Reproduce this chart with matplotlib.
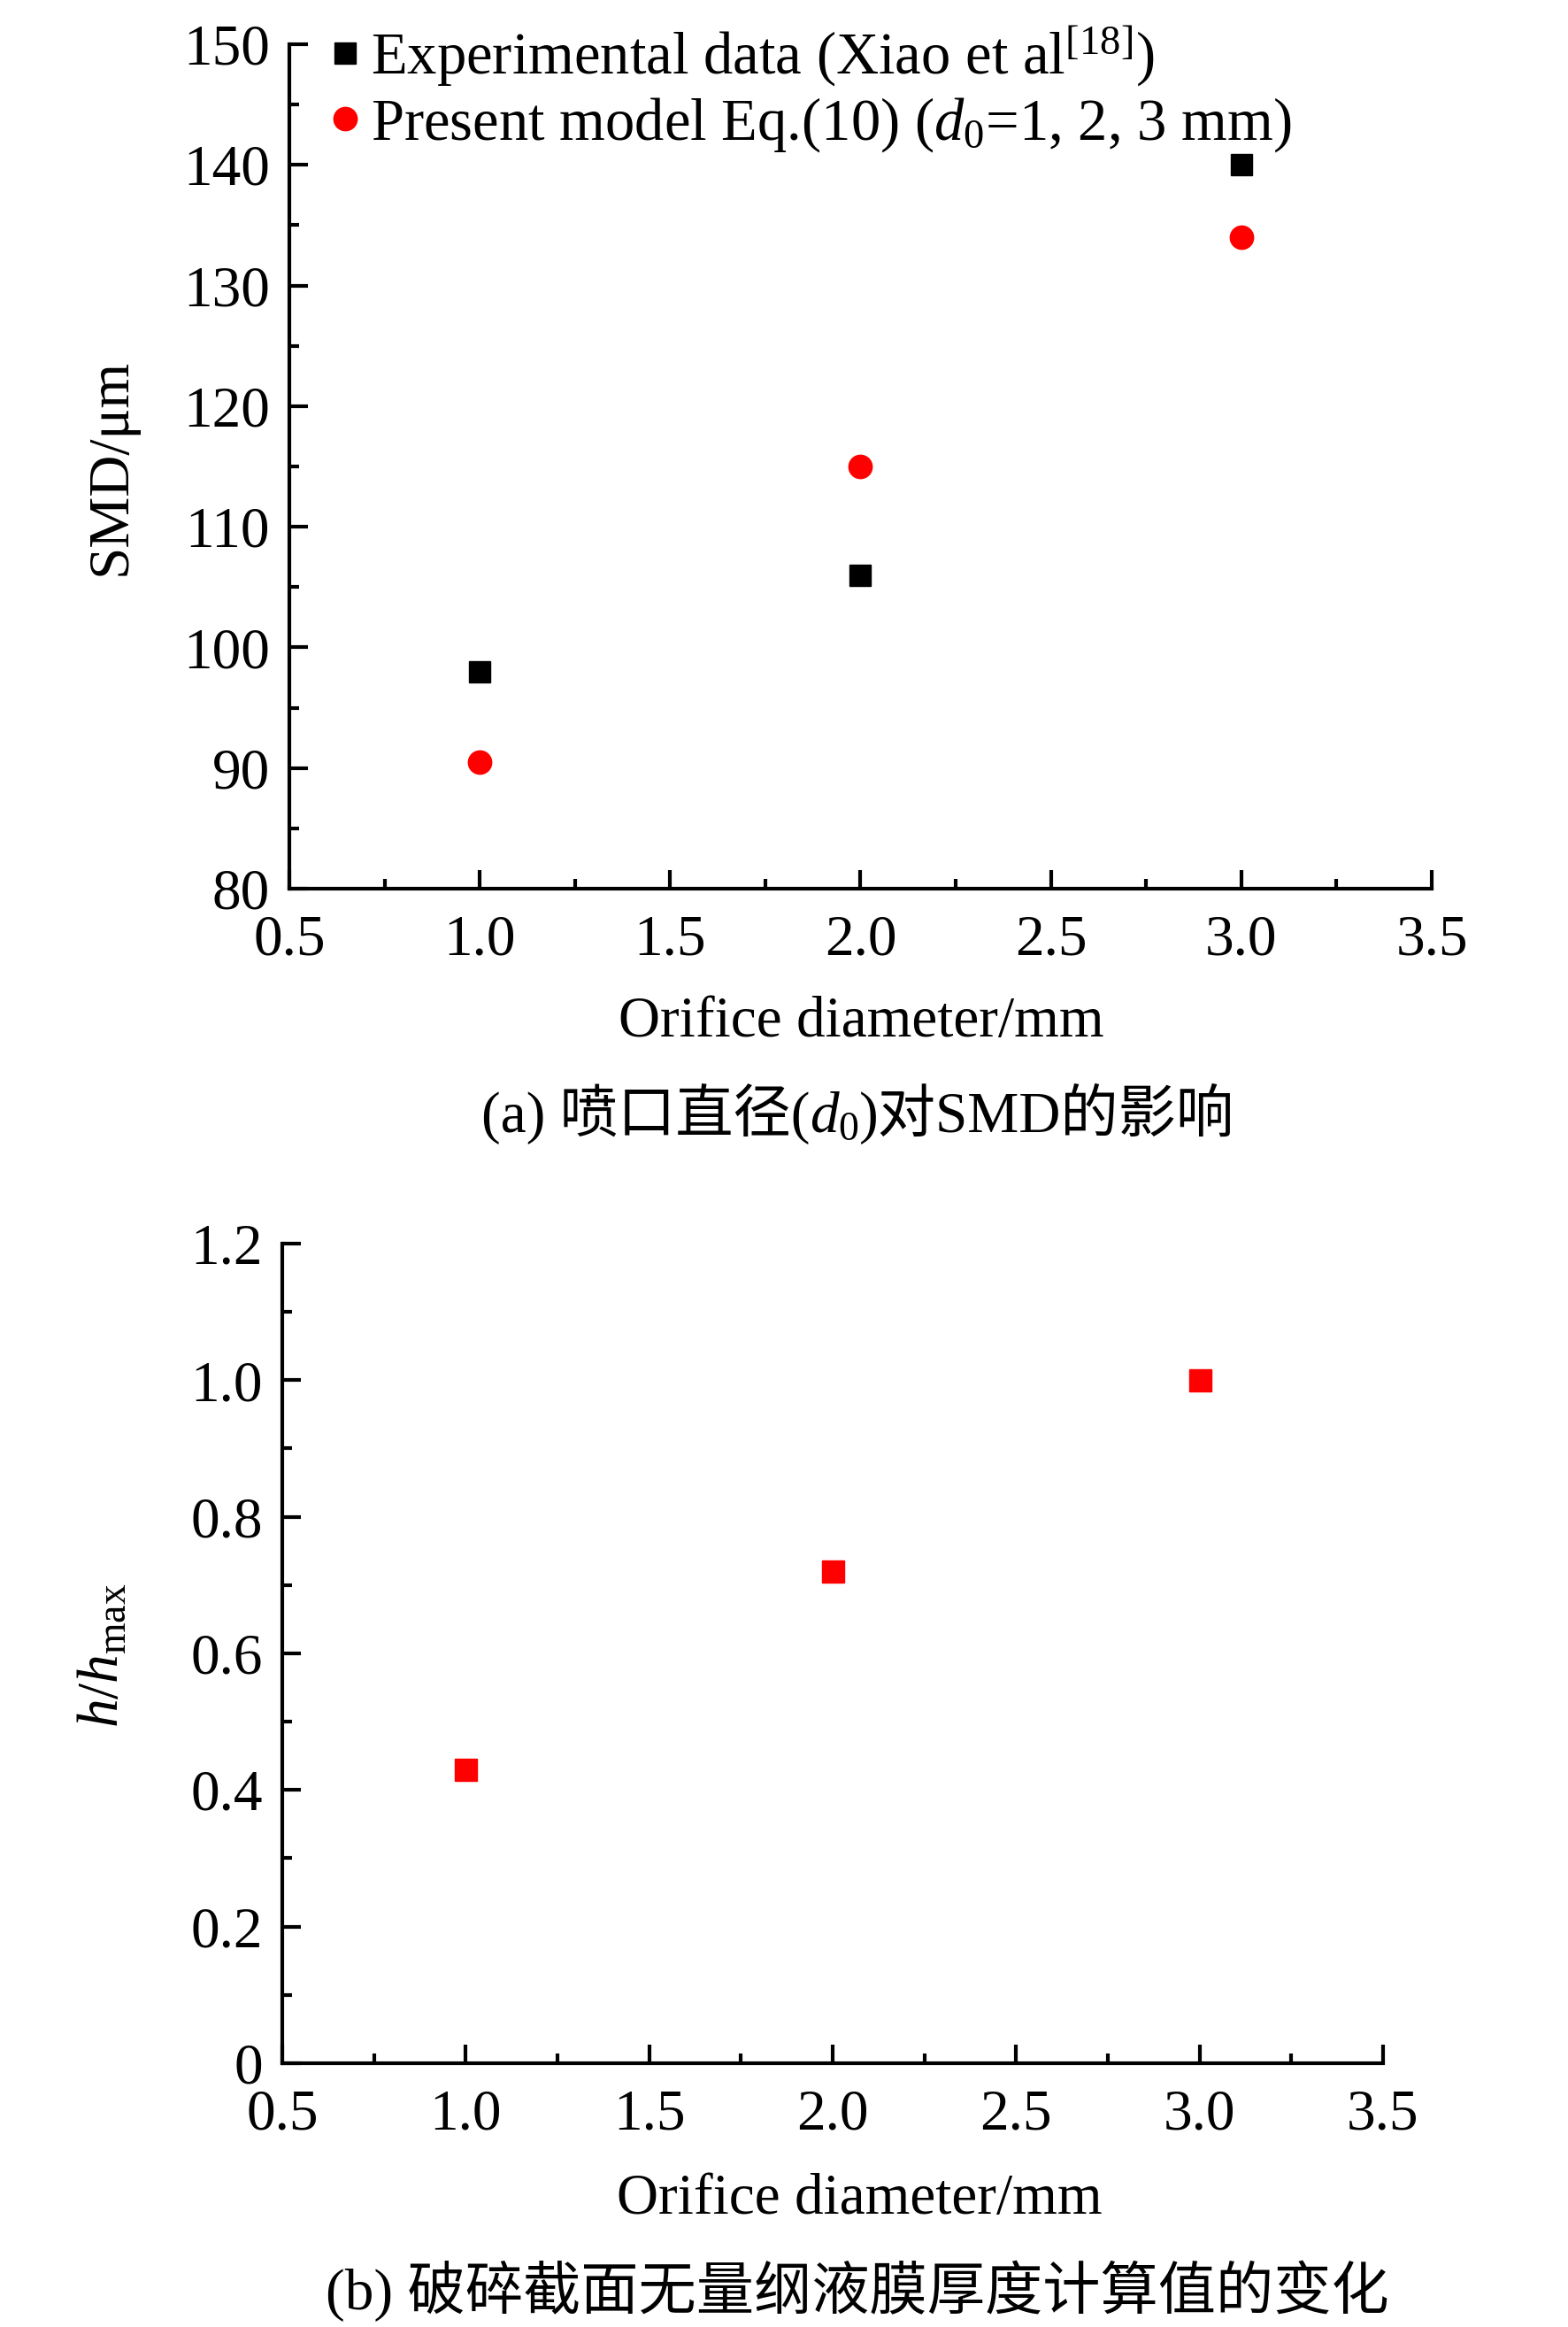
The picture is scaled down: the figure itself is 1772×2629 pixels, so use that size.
import matplotlib
matplotlib.use('Agg')
import matplotlib.pyplot as plt
from matplotlib.ticker import MultipleLocator, FuncFormatter
from matplotlib.offsetbox import TextArea, HPacker, AnchoredOffsetbox

# fonts: Times-like serif for latin, CJK fallback for the captions
plt.rcParams['font.family'] = ['Liberation Serif', 'Noto Sans CJK SC']
plt.rcParams['mathtext.fontset'] = 'custom'
plt.rcParams['mathtext.rm'] = 'Liberation Serif'
plt.rcParams['mathtext.it'] = 'Liberation Serif:italic'
plt.rcParams['axes.unicode_minus'] = False

# data
diameter = [1.0, 2.0, 3.0]
smd_exp = [98, 106, 140]
smd_model = [90.5, 115, 134]
h_ratio = [0.43, 0.72, 1.0]

fs = 47
lw = 3.0

fig = plt.figure(figsize=(17.72, 26.29), dpi=100)
ax1 = fig.add_axes([0.1845, 0.6181, 0.7286, 0.3629])
ax2 = fig.add_axes([0.18, 0.1134, 0.702, 0.3522])


def style_axes(ax):
    for side in ['top', 'right']:
        ax.spines[side].set_visible(False)
    for side in ['left', 'bottom']:
        ax.spines[side].set_linewidth(lw)
    ax.tick_params(which='both', direction='in', width=lw, labelsize=fs,
                   top=False, right=False)
    ax.tick_params(which='major', length=15)
    ax.tick_params(which='minor', length=8)
    ax.tick_params(axis='x', pad=21)
    ax.tick_params(axis='y', pad=16)
    ax.set_xlim(0.5, 3.5)
    ax.xaxis.set_major_locator(MultipleLocator(0.5))
    ax.xaxis.set_minor_locator(MultipleLocator(0.25))
    ax.xaxis.set_major_formatter(FuncFormatter(lambda v, p: '%.1f' % v))


def caption(parts, x, y):
    # mathtext can't fall back to the CJK font, so glue pieces together
    boxes = [TextArea(s, textprops=dict(fontsize=fs)) for s in parts]
    pack = HPacker(children=boxes, align='baseline', pad=0, sep=0)
    anc = AnchoredOffsetbox(loc='center', child=pack, bbox_to_anchor=(x, y),
                            bbox_transform=fig.transFigure, frameon=False,
                            pad=0, borderpad=0)
    fig.add_artist(anc)


# (a) SMD vs orifice diameter
style_axes(ax1)
ax1.plot(diameter, smd_exp, 's', color='black', markersize=17, clip_on=False,
         label='Experimental data (Xiao et al$^{\\mathrm{[18]}}$)')
ax1.plot(diameter, smd_model, 'o', color='red', markersize=19, clip_on=False,
         label='Present model Eq.(10) ($d_0$=1, 2, 3 mm)')
ax1.set_ylim(80, 150)
ax1.yaxis.set_major_locator(MultipleLocator(10))
ax1.yaxis.set_minor_locator(MultipleLocator(5))
ax1.legend(loc='upper left', bbox_to_anchor=(0.2088, 0.9897),
           bbox_transform=fig.transFigure, frameon=False, fontsize=48,
           handlelength=0.6, handletextpad=0.14, labelspacing=0.13,
           borderpad=0, borderaxespad=0)

# (b) dimensionless film thickness
style_axes(ax2)
ax2.plot(diameter, h_ratio, 's', color='red', markersize=18, clip_on=False)
ax2.set_ylim(0, 1.2)
ax2.yaxis.set_major_locator(MultipleLocator(0.2))
ax2.yaxis.set_minor_locator(MultipleLocator(0.1))
ax2.yaxis.set_major_formatter(FuncFormatter(lambda v, p: '0' if abs(v) < 1e-9 else '%.1f' % v))

# axis labels and captions placed like the original page
fig.text(0.0711, 0.7992, 'SMD/μm', rotation=90, ha='center', va='center', fontsize=fs)
fig.text(0.549, 0.5605, 'Orifice diameter/mm', ha='center', va='center', fontsize=fs)
caption(['(a) 喷口直径(', '$d_0$', ')对SMD的影响'], 0.547, 0.5215)

fig.text(0.066, 0.2887, '$h/h_{\\mathrm{max}}$', rotation=90, ha='center', va='center', fontsize=fs)
fig.text(0.548, 0.0548, 'Orifice diameter/mm', ha='center', va='center', fontsize=fs)
caption(['(b) 破碎截面无量纲液膜厚度计算值的变化'], 0.547, 0.0156)

fig.savefig('out.png', dpi=100)
